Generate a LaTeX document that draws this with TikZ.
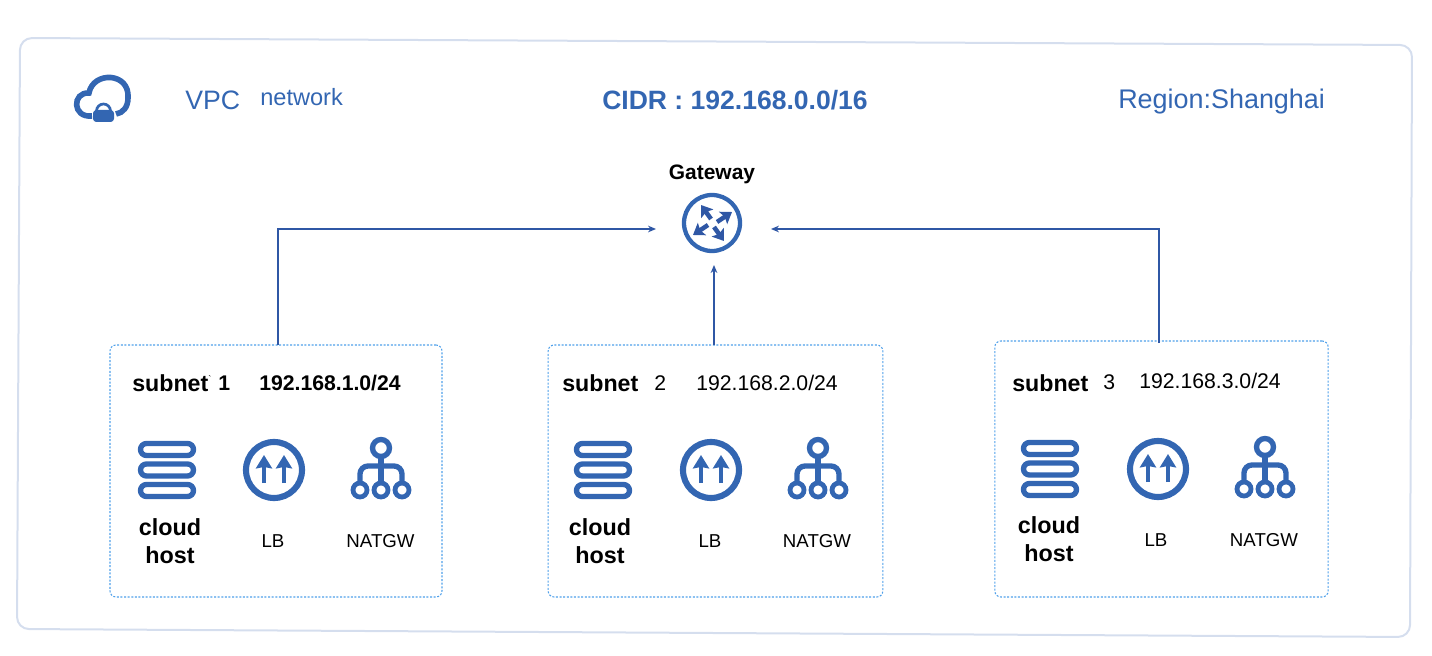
\documentclass[tikz,border=0pt]{standalone}
\usepackage{fontspec}
\setmainfont{Liberation Sans}
\usepackage{tikz}
\usetikzlibrary{positioning, arrows.meta, calc}
\definecolor{mBlue}{HTML}{3366B2}
\definecolor{mLink}{HTML}{2F57A5}
\definecolor{mFrame}{HTML}{D5DEEE}
\definecolor{mDash}{HTML}{4FA0EA}

\begin{document}
\begin{tikzpicture}[
  x=0.75pt, y=-0.75pt,
  head/.style={font=\fontsize{20}{24}\selectfont, text=mBlue, anchor=base west, inner sep=0},
  label/.style={font=\fontsize{15.9}{19}\selectfont, anchor=base west, inner sep=0},
  small/.style={font=\fontsize{14}{17}\selectfont, anchor=base, inner sep=0},
  host/.style={font=\fontsize{17.5}{21}\selectfont\bfseries, align=center, inner sep=0},
  subnetbox/.style={draw=mDash, dash pattern=on 1.5pt off 1.2pt, line width=0.8pt, rounded corners=4.5pt, inner sep=0, outer sep=0},
  link/.style={draw=mLink, line width=1pt, -{Stealth[length=6pt, width=5pt]}},
  spoke/.style={draw=mLink, line width=3.4pt, -{Stealth[length=8pt, width=11pt, inset=1.5pt]}},
  hosticon/.pic={
    \draw[mBlue, line width=4pt, rounded corners=4.5pt] (-26.5,-26.5) rectangle (26.5,-14.5);
    \draw[mBlue, line width=4pt, rounded corners=4.5pt] (-26.5,-6) rectangle (26.5,6);
    \draw[mBlue, line width=4pt, rounded corners=4.5pt] (-26.5,14.5) rectangle (26.5,26.5);
  },
  lbicon/.pic={
    \draw[mBlue, line width=4.6pt] (0,0) circle (28);
    \draw[mBlue, line width=3.6pt, -{Stealth[length=10pt, width=12pt, inset=1pt]}] (-10,13) -- (-10,-15);
    \draw[mBlue, line width=3.6pt, -{Stealth[length=10pt, width=12pt, inset=1pt]}] (10,13) -- (10,-15);
  },
  naticon/.pic={
    \draw[mBlue, line width=4pt] (0,-22) circle (8.5);
    \draw[mBlue, line width=4pt] (0,-13) -- (0,13);
    \draw[mBlue, line width=4pt, rounded corners=6pt] (-21,13) -- (-21,-4) -- (21,-4) -- (21,13);
    \draw[mBlue, line width=3.6pt] (-21,20) circle (7);
    \draw[mBlue, line width=3.6pt] (0,20) circle (7);
    \draw[mBlue, line width=3.6pt] (21,20) circle (7);
  },
]
  \useasboundingbox (0,0) rectangle (1432,656);

  % outer frame
  \draw[mFrame, line width=1.5pt, rounded corners=9pt]
    (20,38) -- (1412,45) -- (1410,637) -- (17,629) -- cycle;

  % title row
  \draw[mBlue, line width=4.2pt] (92,116) .. controls (72,118) and (72,92) .. (89,93)
    .. controls (93,71) and (130,72) .. (128,98) .. controls (128,107) and (123,113) .. (116,114);
  \draw[mBlue, line width=2pt] (103.5,111) circle (7);
  \fill[mBlue, rounded corners=2.5pt] (93,110) rectangle (114,122);

  \node[head] (vpc) at (185,110) {VPC};
  \node[head, font=\fontsize{17.7}{21}\selectfont] (network) at (260,105.5) {network};
  \node[head, font=\fontsize{19.9}{24}\selectfont\bfseries] (cidr) at (602,110) {CIDR : 192.168.0.0/16};
  \node[head, font=\fontsize{20.2}{24}\selectfont] (region) at (1118,109) {Region:Shanghai};

  % gateway
  \node[label, font=\fontsize{15.7}{19}\selectfont\bfseries, anchor=base] (gwlabel) at (712,180) {Gateway};
  \node[circle, draw=mBlue, line width=3.2pt, minimum size=42pt, inner sep=0] (gateway) at (712,223) {};
  \draw[spoke] (711,219) -- (701,205);
  \draw[spoke] (717,222) -- (732,212);
  \draw[spoke] (708,225) -- (693,235);
  \draw[spoke] (714,227) -- (724,241);

  % subnets
  \node[subnetbox, minimum width=249pt, minimum height=189pt] (subnetA) at (276,471) {};
  \node[subnetbox, minimum width=251pt, minimum height=189pt] (subnetB) at (715.5,471) {};
  \node[subnetbox, minimum width=250pt, minimum height=192pt] (subnetC) at (1161.5,469) {};

  \node[label, font=\fontsize{17.4}{21}\selectfont\bfseries] (nameA) at (132,391) {subnet};
  \node[label, font=\fontsize{7}{8}\selectfont, anchor=base] (markA) at (210,382) {\textasciigrave};
  \node[label, font=\fontsize{15.9}{19}\selectfont\bfseries] (numA) at (218,390) {1};
  \node[label, font=\fontsize{15.9}{19}\selectfont\bfseries] (cidrA) at (259,390) {192.168.1.0/24};
  \pic at (167,470) {hosticon};
  \pic at (274,470) {lbicon};
  \pic at (381,470) {naticon};
  \node[host] (hostA) at (170,541.5) {cloud\\host};
  \node[small] (lbA) at (273,547) {LB};
  \node[small] (natA) at (380.5,547) {NATGW};

  \node[label, font=\fontsize{17.4}{21}\selectfont\bfseries] (nameB) at (562,391) {subnet};
  \node[label] (numB) at (654,390) {2};
  \node[label] (cidrB) at (696,390) {192.168.2.0/24};
  \pic at (603,470) {hosticon};
  \pic at (711,470) {lbicon};
  \pic at (818,470) {naticon};
  \node[host] (hostB) at (600,541.5) {cloud\\host};
  \node[small] (lbB) at (710,547) {LB};
  \node[small] (natB) at (817,547) {NATGW};

  \node[label, font=\fontsize{17.4}{21}\selectfont\bfseries] (nameC) at (1012,391) {subnet};
  \node[label] (numC) at (1103,389) {3};
  \node[label] (cidrC) at (1139,388) {192.168.3.0/24};
  \pic at (1050,469) {hosticon};
  \pic at (1158,469) {lbicon};
  \pic at (1265,469) {naticon};
  \node[host] (hostC) at (1049,539.5) {cloud\\host};
  \node[small] (lbC) at (1156,546) {LB};
  \node[small] (natC) at (1264,546) {NATGW};

  % links
  \coordinate (gwwest) at (656,229);
  \coordinate (gweast) at (771,229);
  \coordinate (gwsouth) at (714,265);
  \draw[link] ($(subnetA.north)+(2,0)$) |- (gwwest);
  \draw[link] ($(subnetB.north)+(-1.5,0)$) -- (gwsouth);
  \draw[link] ($(subnetC.north)+(-2.5,2)$) |- (gweast);
\end{tikzpicture}
\end{document}
